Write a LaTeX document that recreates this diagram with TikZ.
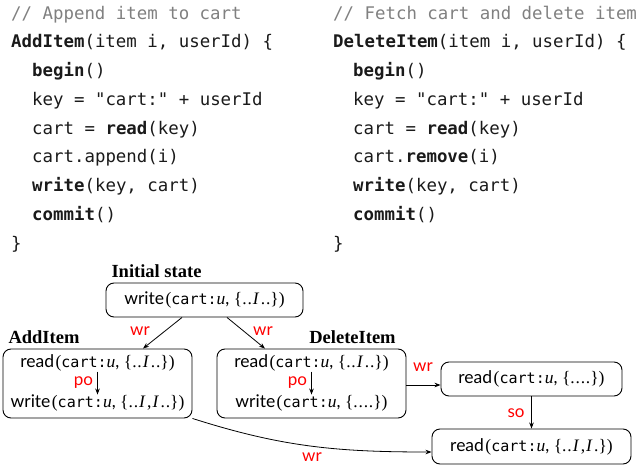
\documentclass[tikz,border=0pt]{standalone}
\usepackage{fontspec}
\setmainfont{Liberation Serif}
\setsansfont{Lato}
\setmonofont[Scale=0.86]{DejaVu Sans Mono}
\newfontfamily\codefont{DejaVu Sans Mono}
\usetikzlibrary{arrows.meta}
\definecolor{codegray}{HTML}{808080}
\definecolor{codeblack}{HTML}{1A1A1A}
\newcommand{\cu}{{\ttfamily cart:}{\rmfamily\itshape u}, }
\newcommand{\st}[1]{{\rmfamily\{#1\}}}
\newcommand{\evt}[2]{#1\kern1.5pt{\rmfamily(}\cu#2{\rmfamily)}}
\newcommand{\dd}{.\kern0.8pt.}
\newcommand{\II}{\kern1pt\textit{I}\kern1.5pt}
\begin{document}
\begin{tikzpicture}[x=1pt,y=-1pt,
  >={Stealth[length=6pt,width=4.5pt]},
  code/.style={anchor=base west, inner sep=0, font=\codefont\fontsize{17.4}{20}\selectfont, text=codeblack},
  comment/.style={code, text=codegray},
  box/.style={draw, rounded corners=8pt, line width=0.9pt, inner sep=0, font=\sffamily\fontsize{17.5}{20}\selectfont},
  dtext/.style={inner sep=0, font=\sffamily\fontsize{17.5}{20}\selectfont},
  lbl/.style={inner sep=0, text=red, font=\sffamily\fontsize{17}{20}\selectfont},
  ttl/.style={anchor=base, inner sep=0, font=\bfseries\fontsize{18.5}{20}\selectfont},
  edge/.style={->, line width=0.8pt}]
\useasboundingbox (0,0) rectangle (643,466);

% code, left
\node[comment] (a0) at (11,19) {// Append item to cart};
\node[code] (a1) at (11,47.75) {\textbf{AddItem}(item i, userId) \{};
\node[code] (a2) at (32,76.5) {\textbf{begin}()};
\node[code] (a3) at (32,105.25) {key = "cart:" + userId};
\node[code] (a4) at (32,134) {cart = \textbf{read}(key)};
\node[code] (a5) at (32,162.75) {cart.append(i)};
\node[code] (a6) at (32,191.5) {\textbf{write}(key, cart)};
\node[code] (a7) at (32,220.25) {\textbf{commit}()};
\node[code] (a8) at (11,249) {\}};

% code, right
\node[comment] (b0) at (333,19) {// Fetch cart and delete item};
\node[code] (b1) at (333,47.75) {\textbf{DeleteItem}(item i, userId) \{};
\node[code] (b2) at (353,76.5) {\textbf{begin}()};
\node[code] (b3) at (353,105.25) {key = "cart:" + userId};
\node[code] (b4) at (353,134) {cart = \textbf{read}(key)};
\node[code] (b5) at (353,162.75) {cart.\textbf{remove}(i)};
\node[code] (b6) at (353,191.5) {\textbf{write}(key, cart)};
\node[code] (b7) at (353,220.25) {\textbf{commit}()};
\node[code] (b8) at (333,249) {\}};

% titles
\node[ttl] (tinit) at (156.5,277) {Initial state};
\node[ttl] (tadd) at (44,343) {AddItem};
\node[ttl] (tdel) at (352.5,343) {DeleteItem};

% boxes
\node[box, minimum width=197, minimum height=34] (init) at (204.5,300)
  {\evt{write}{\st{\dd\II\dd}}};
\node[box, minimum width=189, minimum height=69] (add) at (97.5,383.5) {};
\node[box, minimum width=189, minimum height=69] (del) at (311.5,383.5) {};
\node[box, minimum width=181, minimum height=34] (r3) at (531.5,379)
  {\evt{read}{\st{\dd\kern0.8pt\dd}}};
\node[box, minimum width=199, minimum height=35] (r4) at (531.5,446.5)
  {\evt{read}{\st{\dd\II,\II.}}};

% inner events
\node[dtext] (addr) at (97.5,363) {\evt{read}{\st{\dd\II\dd}}};
\node[dtext] (addw) at (97.5,403) {\evt{write}{\st{\dd\II,\II\dd}}};
\node[dtext] (delr) at (311.5,363) {\evt{read}{\st{\dd\II\dd}}};
\node[dtext] (delw) at (311.5,403) {\evt{write}{\st{\dd\kern0.8pt\dd}}};

\draw[edge] (addr.south) -- node[lbl, left=4pt] {po} (addw.north);
\draw[edge] (delr.south) -- node[lbl, left=4pt] {po} (delw.north);

% edges
\draw[edge] ([xshift=-22.5pt]init.south) -- ([xshift=45.5pt]add.north);
\node[lbl] (wr1) at (140,331) {wr};
\draw[edge] ([xshift=22.5pt]init.south) -- ([xshift=-46.5pt]del.north);
\node[lbl] (wr2) at (263,331) {wr};
\draw[edge] ([yshift=-1.5pt]del.east) -- ([yshift=-1.5pt]del.east -| r3.west);
\node[lbl] (wr3) at (423,367) {wr};
\draw[edge] (r3.south) -- (r3.south |- r4.north);
\node[lbl] (so) at (516,413) {so};
\draw[edge] (add.south east) .. controls (282,447) and (337,452) .. ([yshift=-5.5pt]r4.west);
\node[lbl] (wr4) at (312,457) {wr};
\end{tikzpicture}
\end{document}
